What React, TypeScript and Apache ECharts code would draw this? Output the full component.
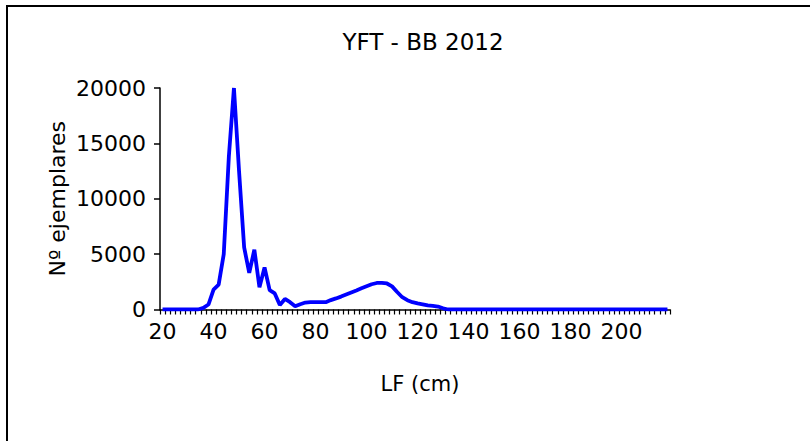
import React, { useEffect, useRef } from "react";
import * as echarts from "echarts";

const titleText = "YFT - BB 2012";
const xName = "LF (cm)";
const yName = "Nº ejemplares";

const lengths = [
  20, 22, 24, 26, 28, 30, 32, 34, 36, 38, 40, 42, 44, 46, 48, 50, 52, 54, 56, 58,
  60, 62, 64, 66, 68, 70, 72, 74, 76, 78, 80, 82, 84, 86, 88, 90, 92, 94, 96, 98,
  100, 102, 104, 106, 108, 110, 112, 114, 116, 118, 120, 122, 124, 126, 128, 130, 132, 134, 136, 138,
  140, 142, 144, 146, 148, 150, 152, 154, 156, 158, 160, 162, 164, 166, 168, 170, 172, 174, 176, 178,
  180, 182, 184, 186, 188, 190, 192, 194, 196, 198, 200, 202, 204, 206, 208, 210, 212, 214, 216, 218,
];

const counts = [
  0, 0, 0, 0, 0, 0, 0, 0, 150, 450, 1800, 2250, 5000, 13800, 20000, 12500, 5600, 3300, 5400, 2000,
  3800, 1750, 1450, 400, 950, 660, 300, 480, 630, 660, 660, 660, 660, 850, 1000, 1165, 1350, 1535, 1720, 1910,
  2095, 2280, 2395, 2410, 2350, 2090, 1580, 1110, 840, 660, 545, 470, 370, 330, 270, 110, 0, 0, 0, 0,
  0, 0, 0, 0, 0, 0, 0, 0, 0, 0, 0, 0, 0, 0, 0, 0, 0, 0, 0, 0,
  0, 0, 0, 0, 0, 0, 0, 0, 0, 0, 0, 0, 0, 0, 0, 0, 0, 0, 0, 0,
];

const xLabels = [20, 40, 60, 80, 100, 120, 140, 160, 180, 200];

export default function App() {
  const ref = useRef<HTMLDivElement>(null);
  useEffect(() => {
    if (!ref.current) return;
    const chart = echarts.init(ref.current, null, { renderer: "svg" });
    const font = "DejaVu Sans, Liberation Sans, sans-serif";
    chart.setOption({
      animation: false,
      backgroundColor: "#ffffff",
      title: {
        text: titleText,
        left: 418,
        top: 25,
        textAlign: "center",
        textStyle: { fontFamily: font, fontSize: 23, fontWeight: "normal", color: "#000" },
      },
      graphic: [
        {
          type: "rect",
          shape: { x: 7, y: 6, width: 900, height: 500 },
          style: { fill: "none", stroke: "#000", lineWidth: 2 },
          silent: true,
        },
      ],
      grid: { left: 160, right: 140, top: 88, bottom: 131.5, containLabel: false },
      xAxis: {
        type: "category",
        data: lengths.map(String),
        boundaryGap: true,
        name: xName,
        nameLocation: "middle",
        nameGap: 64,
        nameMoveOverlap: false,
        nameTextStyle: { fontFamily: font, fontSize: 21, color: "#000", padding: [0, 0, 0, 10] },
        axisLine: { lineStyle: { color: "#000", width: 1.5 } },
        axisTick: { show: true, inside: false, length: 5, interval: 0, lineStyle: { color: "#000", width: 1.2 } },
        axisLabel: {
          interval: (idx: number, val: string) => xLabels.indexOf(Number(val)) >= 0,
          margin: 11,
          fontFamily: font,
          fontSize: 22,
          color: "#000",
        },
        splitLine: { show: false },
      },
      yAxis: {
        type: "value",
        min: 0,
        max: 20000,
        interval: 5000,
        name: yName,
        nameLocation: "middle",
        nameGap: 92,
        nameRotate: 90,
        nameMoveOverlap: false,
        nameTextStyle: { fontFamily: font, fontSize: 22, color: "#000" },
        axisLine: { show: true, lineStyle: { color: "#000", width: 1.5 } },
        axisTick: { show: true, inside: false, length: 6, lineStyle: { color: "#000", width: 1.5 } },
        axisLabel: {
          margin: 14,
          fontFamily: font,
          fontSize: 22,
          color: "#000",
          formatter: (v: number) => String(v),
        },
        splitLine: { show: false },
      },
      series: [
        {
          type: "line",
          data: counts,
          symbol: "none",
          clip: true,
          lineStyle: { color: "#0000ff", width: 3.8 },
          itemStyle: { color: "#0000ff" },
        },
      ],
    });
    return () => chart.dispose();
  }, []);
  return (
    <div
      ref={ref}
      style={{ position: "fixed", left: 0, top: 0, width: 810, height: 441, background: "#fff" }}
    />
  );
}
